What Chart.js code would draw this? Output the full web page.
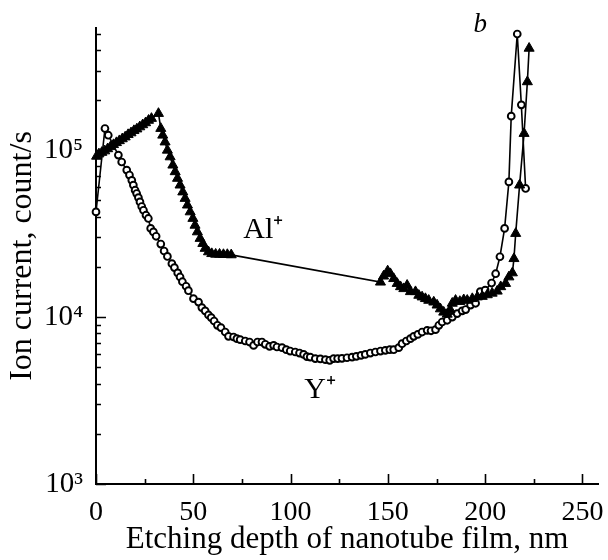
<!DOCTYPE html>
<html>
<head>
<meta charset="utf-8">
<script src="https://cdn.jsdelivr.net/npm/chart.js@4.4.1/dist/chart.umd.min.js"></script>
<style>
  html, body { margin: 0; padding: 0; background: #fff; }
  #wrap { width: 608px; height: 560px; }
</style>
</head>
<body>
<div id="wrap"><canvas id="c" width="608" height="560"></canvas></div>
<script>
// ---- Data ----
const yDepth = [0, 4.6, 6.3, 11.5, 13.2, 15.8, 17.2, 18.4, 19.2, 20.1, 20.9, 21.8, 22.6, 23.5, 24.4, 25.7, 26.9, 28.1, 29.5, 30.9,
  33.3, 35.0, 36.7, 39.0, 40.3, 42.0, 43.2, 44.4, 46.3, 47.5, 50.1, 52.7, 54.4, 56.1, 57.8, 59.2, 60.7, 62.4, 64.2, 66.4,
  68.1, 70.7, 72.4, 74.1, 76.7, 78.9, 81.0, 83.0, 85.3, 87.0, 89.2, 91.3, 93.0, 95.6, 97.8, 99.8, 102.4, 104.6, 106.7, 108.4,
  110.1, 112.7, 115.3, 117.9, 120.1, 122.1, 124.2, 126.4, 129.0, 131.6, 133.8, 136.2, 138.4, 141.0, 143.6, 146.2, 148.7, 151.0, 153.0, 155.6,
  157.3, 159.5, 161.6, 163.3, 165.4, 167.6, 170.2, 172.2, 174.5, 176.2, 177.9, 180.5, 183.1, 185.6, 188.2, 190.0, 192.5, 195.1, 197.5, 200.0,
  203.3, 205.4, 207.6, 210.0, 212.2, 213.4, 216.5, 218.6, 220.8];
const yCounts = [42700, 135000, 123000, 93500, 85000, 76000, 71000, 66000, 61800, 57600, 55000, 52000, 49000, 46000, 43700, 40800, 39000, 34000, 32400, 30500,
  27400, 24900, 23100, 20900, 19800, 18400, 17400, 16300, 15300, 14400, 12900, 12300, 11400, 10900, 10300, 9930, 9480, 8930, 8650, 8140,
  7670, 7600, 7430, 7330, 7190, 7090, 6770, 7090, 7090, 6870, 6680, 6770, 6620, 6560, 6380, 6260, 6180, 6090, 5980, 5800,
  5760, 5640, 5620, 5560, 5510, 5640, 5640, 5660, 5710, 5760, 5820, 5900, 5980, 6090, 6180, 6260, 6320, 6380, 6380, 6560,
  6930, 7190, 7430, 7670, 7880, 8140, 8330, 8280, 8410, 8930, 9350, 9570, 10000, 10500, 10900, 11100, 11800, 12100, 14200, 14500,
  16000, 18200, 23000, 34000, 64600, 160000, 497000, 187000, 59000];

const alDepth = [0.3, 1.5, 3.0, 4.5, 6.0, 7.5, 9.0, 10.5, 12.0, 13.5, 15.0, 16.5, 18.0, 19.5, 21.0, 22.5, 24.0, 25.5, 27.0, 28.5,
  32.1, 33.3, 34.3, 35.5, 36.7, 38.1, 39.5, 40.7, 41.9, 43.2, 44.6, 45.8, 47.0, 48.4, 49.8, 50.9, 52.1, 53.5, 54.9, 56.1,
  57.8, 59.5, 61.5, 63.5, 65.5, 67.5, 69.5, 146.2, 147.8, 149.9, 151.3, 153.0, 154.8, 156.5, 158.2, 159.9, 161.6, 164.2, 165.9, 167.6,
  169.3, 171.0, 173.6, 175.3, 177.0, 178.7, 180.5, 182.0, 183.1, 184.8, 187.0, 189.0, 190.8, 193.4, 196.0, 198.5, 201.1, 203.6, 206.2, 208.0,
  210.5, 212.2, 214.0, 214.8, 215.7, 217.7, 220.0, 221.7, 222.6];
const alCounts = [92000, 95000, 97000, 99000, 102000, 105000, 108000, 111000, 114000, 117000, 120000, 124000, 127000, 131000, 134000, 138000, 142000, 146000, 151000, 155000,
  166000, 135000, 123000, 112000, 100000, 91200, 81400, 74300, 67800, 61800, 56200, 51400, 46900, 42700, 39000, 35500, 32400, 29600, 27600, 25800,
  24600, 24000, 23800, 23800, 23700, 23700, 23600, 16200, 17600, 18900, 18200, 17000, 15900, 15200, 14800, 15500, 14200, 14200, 13500, 13200,
  12900, 12600, 12300, 11800, 11200, 10700, 10400, 11100, 12100, 12600, 12400, 12700, 12600, 12900, 13200, 13300, 13600, 13900, 14300, 15200,
  15900, 17400, 18400, 22400, 31700, 61800, 126000, 257000, 408000];

const xTickValues = [0, 50, 100, 150, 200, 250];
const xTickLabels = ['0', '50', '100', '150', '200', '250'];
const xMinorTicks = [25, 75, 125, 175, 225];
const yTickValues = [1000, 10000, 100000];
const yTickLabels = ['10³', '10⁴', '10⁵'];
const yMinorTicks = [2000, 3000, 4000, 5000, 6000, 7000, 8000, 9000,
  20000, 30000, 40000, 50000, 60000, 70000, 80000, 90000,
  200000, 300000, 400000, 500000];

const xTitle = 'Etching depth of nanotube film, nm';
const yTitle = 'Ion current, count/s';
const seriesNames = ['Al⁺', 'Y⁺'];
const panelLetter = 'b';

const SERIF = '"Liberation Serif", "Times New Roman", serif';

const toXY = (xs, ys) => xs.map((x, i) => ({ x: x, y: ys[i] }));

const tickPlugin = {
  id: 'inwardTicks',
  afterDatasetsDraw(chart) {
    const ctx = chart.ctx;
    const xs = chart.scales.x, ys = chart.scales.y;
    const left = xs.left, bottom = ys.bottom;
    ctx.save();
    ctx.strokeStyle = '#000';
    ctx.lineWidth = 1.6;
    ctx.beginPath();
    xTickValues.forEach(v => { const p = Math.round(xs.getPixelForValue(v)) + 0.5; ctx.moveTo(p, bottom); ctx.lineTo(p, bottom - 10); });
    xMinorTicks.forEach(v => { const p = Math.round(xs.getPixelForValue(v)) + 0.5; ctx.moveTo(p, bottom); ctx.lineTo(p, bottom - 5); });
    yTickValues.forEach(v => { const p = Math.round(ys.getPixelForValue(v)) + 0.5; ctx.moveTo(left, p); ctx.lineTo(left + 10, p); });
    yMinorTicks.forEach(v => { const p = Math.round(ys.getPixelForValue(v)) + 0.5; ctx.moveTo(left, p); ctx.lineTo(left + 5, p); });
    ctx.stroke();

    // series labels and panel letter, placed in data coordinates
    ctx.fillStyle = '#000';
    ctx.textBaseline = 'alphabetic';
    ctx.textAlign = 'left';
    ctx.font = '30px ' + SERIF;
    ctx.fillText(seriesNames[0], xs.getPixelForValue(75.7), ys.getPixelForValue(29700));
    ctx.fillText(seriesNames[1], xs.getPixelForValue(107), ys.getPixelForValue(3260));
    ctx.font = 'italic 27px ' + SERIF;
    ctx.textAlign = 'center';
    ctx.fillText(panelLetter, xs.getPixelForValue(197.5), ys.getPixelForValue(510000));
    ctx.restore();
  }
};

new Chart(document.getElementById('c'), {
  type: 'scatter',
  data: {
    datasets: [
      {
        label: seriesNames[0],
        data: toXY(alDepth, alCounts),
        showLine: true,
        borderColor: '#000',
        borderWidth: 1.6,
        pointStyle: 'triangle',
        pointRadius: 5.8,
        pointBackgroundColor: '#000',
        pointBorderColor: '#000',
        pointBorderWidth: 1,
        clip: false
      },
      {
        label: seriesNames[1],
        data: toXY(yDepth, yCounts),
        showLine: true,
        borderColor: '#000',
        borderWidth: 1.6,
        pointStyle: 'circle',
        pointRadius: 3.4,
        pointBackgroundColor: '#fff',
        pointBorderColor: '#000',
        pointBorderWidth: 1.9,
        clip: false
      }
    ]
  },
  options: {
    responsive: false,
    devicePixelRatio: 1,
    animation: false,
    layout: { padding: { top: 28, right: 10, left: 0, bottom: 0 } },
    plugins: { legend: { display: false }, tooltip: { enabled: false } },
    scales: {
      x: {
        type: 'linear',
        position: 'bottom',
        min: 0,
        max: 258,
        grid: { display: false },
        border: { display: true, color: '#000', width: 2 },
        afterBuildTicks: s => { s.ticks = xTickValues.map(v => ({ value: v })); },
        afterFit: s => { s.height = 76; },
        ticks: {
          autoSkip: false,
          maxRotation: 0,
          padding: 4,
          color: '#000',
          font: { family: SERIF, size: 28 },
          callback: (v) => { const i = xTickValues.indexOf(v); return i >= 0 ? xTickLabels[i] : ''; }
        },
        title: {
          display: true,
          text: xTitle,
          color: '#000',
          font: { family: SERIF, size: 31 },
          padding: { top: 0, bottom: 2 }
        }
      },
      y: {
        type: 'logarithmic',
        position: 'left',
        min: 1000,
        max: 540000,
        grid: { display: false },
        border: { display: true, color: '#000', width: 2 },
        afterBuildTicks: s => { s.ticks = yTickValues.map(v => ({ value: v })); },
        afterFit: s => { s.width = 96; },
        ticks: {
          autoSkip: false,
          padding: 5,
          color: '#000',
          font: { family: SERIF, size: 29 },
          callback: (v) => { const i = yTickValues.indexOf(v); return i >= 0 ? yTickLabels[i] : ''; }
        },
        title: {
          display: true,
          text: yTitle,
          color: '#000',
          font: { family: SERIF, size: 32 },
          padding: { top: 3, bottom: 0 }
        }
      }
    }
  },
  plugins: [tickPlugin]
});
</script>
</body>
</html>
